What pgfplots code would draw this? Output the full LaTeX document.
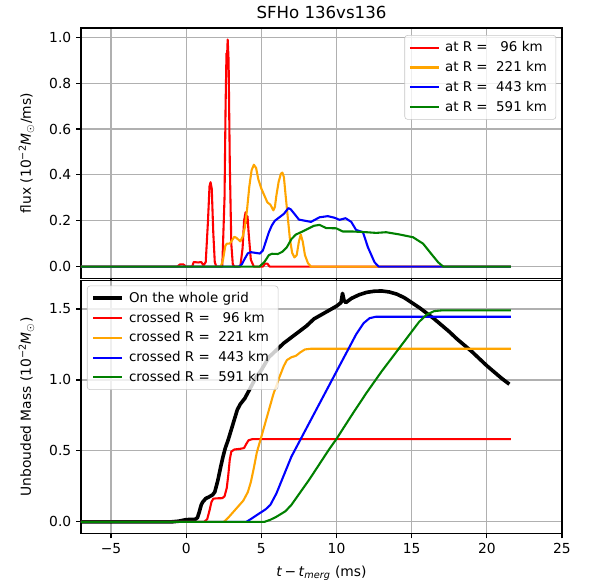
\documentclass[border=0pt]{standalone}
\usepackage{fontspec}
\setmainfont{DejaVu Sans}
\usepackage{pgfplots}
\pgfplotsset{compat=1.18}
\definecolor{mplorange}{RGB}{255,165,0}
\definecolor{mplgreen}{RGB}{0,128,0}
\definecolor{gridgray}{RGB}{176,176,176}
\pgfplotsset{
  common/.style={
    width=346.3bp, scale only axis,
    xmin=-7, xmax=25,
    font=\fontsize{10}{12}\selectfont,
    tick label style={font=\fontsize{10}{12}\selectfont},
    /pgf/number format/assume math mode=true,
    grid=major,
    major grid style={gridgray, line width=0.8bp},
    axis line style={line width=0.8bp},
    tick style={black, line width=0.8bp},
    tick align=outside,
    major tick length=3.5bp,
    xtick pos=bottom, ytick pos=left,
    xtick={-5,0,5,10,15,20,25},
    legend cell align=left,
    legend style={font=\fontsize{9.7}{11.5}\selectfont, draw=gray!45, rounded corners=2bp,
      fill=white, fill opacity=0.8, text opacity=1, inner xsep=3bp, inner ysep=2.5bp,
      row sep=1.4bp, nodes={inner xsep=3.5bp}},
    legend image code/.code={\draw[##1] (0bp,0bp) -- (21bp,0bp);},
    every axis plot/.append style={line width=1.5bp, line join=round},
  }
}
\begin{document}
\begin{tikzpicture}
\begin{axis}[common, name=top,
  height=180bp,
  ymin=-0.05, ymax=1.04,
  ytick={0,0.2,0.4,0.6,0.8,1.0},
  yticklabels={0.0,0.2,0.4,0.6,0.8,1.0},
  xticklabels={},
  ylabel={flux (10\textsuperscript{−2}\textit{M}\textsubscript{$\odot$}/ms)},
  ylabel style={yshift=4bp},
  title={SFHo 136vs136},
  title style={font=\fontsize{12}{14}\selectfont, yshift=-3bp},
  legend style={at={(0.988,0.972)}, anchor=north east},
]
\addplot[red] coordinates {(-7,0)(-0.6,0)(-0.4,0.01)(-0.2,0.01)(0,0)(0.4,0)(0.5,0.02)(0.8,0.018)(1.0,0.02)(1.15,0.005)(1.3,0.02)(1.45,0.2)(1.55,0.35)(1.62,0.368)(1.7,0.34)(1.8,0.15)(1.9,0.02)(2.0,0)(2.4,0)(2.55,0.3)(2.62,0.7)(2.68,0.93)(2.72,0.92)(2.76,0.99)(2.82,0.9)(2.9,0.45)(3.0,0.1)(3.1,0.01)(3.2,0)(3.6,0)(3.75,0.08)(3.85,0.2)(3.95,0.237)(4.02,0.19)(4.08,0.22)(4.15,0.15)(4.3,0.03)(4.5,0)(5.1,0)(5.25,0.013)(5.4,0.013)(5.55,0)(21.6,0)};
\addlegendentry{at R =\ \ \ 96 km}
\addplot[mplorange] coordinates {(-7,0)(2.3,0)(2.45,0.03)(2.6,0.09)(2.7,0.1)(2.9,0.1)(3.0,0.11)(3.2,0.13)(3.35,0.125)(3.6,0.11)(3.75,0.13)(3.9,0.17)(4.05,0.25)(4.2,0.35)(4.35,0.42)(4.5,0.444)(4.65,0.43)(4.8,0.38)(5.0,0.34)(5.2,0.31)(5.4,0.28)(5.6,0.27)(5.8,0.245)(5.9,0.26)(6.0,0.31)(6.15,0.37)(6.3,0.405)(6.4,0.41)(6.5,0.39)(6.6,0.32)(6.75,0.22)(6.9,0.12)(7.05,0.06)(7.2,0.04)(7.35,0.05)(7.5,0.11)(7.62,0.14)(7.75,0.11)(7.9,0.05)(8.1,0.015)(8.3,0)(21.6,0)};
\addlegendentry{at R =\ \ 221 km}
\addplot[blue] coordinates {(-7,0)(3.5,0)(3.7,0.01)(3.9,0.035)(4.1,0.058)(4.3,0.063)(4.6,0.06)(4.9,0.057)(5.1,0.07)(5.3,0.11)(5.5,0.15)(5.7,0.18)(5.9,0.2)(6.2,0.215)(6.5,0.23)(6.8,0.255)(6.95,0.25)(7.2,0.23)(7.5,0.205)(7.9,0.2)(8.3,0.195)(8.87,0.215)(9.42,0.22)(9.87,0.213)(10.2,0.204)(10.6,0.211)(10.98,0.195)(11.3,0.16)(11.76,0.15)(12.09,0.084)(12.53,0.019)(12.8,0)(21.6,0)};
\addlegendentry{at R =\ \ 443 km}
\addplot[mplgreen] coordinates {(-7,0)(4.87,0)(5.2,0.02)(5.5,0.05)(5.7,0.056)(6.1,0.055)(6.4,0.065)(6.7,0.085)(7.0,0.12)(7.3,0.14)(7.7,0.152)(8.1,0.165)(8.5,0.178)(8.87,0.182)(9.31,0.168)(9.98,0.167)(10.42,0.153)(11.09,0.153)(11.98,0.15)(12.64,0.147)(13.3,0.15)(14.2,0.14)(15.09,0.128)(15.76,0.1)(16.31,0.055)(16.76,0.019)(17.1,0)(21.6,0)};
\addlegendentry{at R =\ \ 591 km}
\end{axis}
\begin{axis}[common, name=bot,
  at={(top.south west)}, anchor=north west, yshift=-1.8bp,
  height=182bp,
  ymin=-0.081, ymax=1.70,
  ytick={0,0.5,1.0,1.5},
  yticklabels={0.0,0.5,1.0,1.5},
  xticklabels={−5,0,5,10,15,20,25},
  xlabel={\textit{t}\,−\,\textit{t}\textsubscript{\textit{merg}} (ms)},
  xlabel style={yshift=-2bp},
  ylabel={Unbouded Mass (10\textsuperscript{−2}\textit{M}\textsubscript{$\odot$})},
  ylabel style={yshift=4bp},
  legend style={at={(0.0125,0.98)}, anchor=north west},
]
\addplot[black, line width=2.6bp] coordinates {(-7,0)(-1,0)(-0.5,0.005)(0,0.016)(0.6,0.018)(0.75,0.03)(0.87,0.07)(1.0,0.12)(1.1,0.14)(1.3,0.165)(1.5,0.175)(1.75,0.19)(1.9,0.21)(2.1,0.29)(2.3,0.39)(2.45,0.46)(2.6,0.52)(2.8,0.58)(3.0,0.65)(3.2,0.72)(3.4,0.79)(3.6,0.83)(3.9,0.87)(4.2,0.93)(4.4,0.97)(4.65,1.02)(5.0,1.07)(5.5,1.16)(6.0,1.21)(6.5,1.26)(7.0,1.3)(7.5,1.34)(8.0,1.38)(8.5,1.43)(9.0,1.46)(9.5,1.49)(10.0,1.52)(10.3,1.545)(10.4,1.61)(10.5,1.56)(10.62,1.545)(11.0,1.575)(11.5,1.6)(12.0,1.617)(12.5,1.625)(13.0,1.627)(13.5,1.62)(14.0,1.605)(14.5,1.58)(15.0,1.545)(15.5,1.51)(16.0,1.47)(16.5,1.43)(17.0,1.385)(17.5,1.34)(18.0,1.29)(18.5,1.245)(19.0,1.2)(19.5,1.15)(20.0,1.1)(20.5,1.055)(21.0,1.01)(21.5,0.97)};
\addlegendentry{On the whole grid}
\addplot[red] coordinates {(-7,0)(1.2,0)(1.4,0.02)(1.55,0.08)(1.68,0.14)(1.8,0.163)(2.0,0.166)(2.4,0.167)(2.55,0.18)(2.7,0.24)(2.8,0.33)(2.9,0.44)(3.0,0.495)(3.2,0.51)(3.6,0.515)(3.85,0.52)(4.0,0.55)(4.15,0.575)(4.4,0.583)(21.6,0.583)};
\addlegendentry{crossed R =\ \ \ 96 km}
\addplot[mplorange] coordinates {(-7,0)(2.5,0)(2.8,0.03)(3.3,0.09)(3.8,0.15)(4.1,0.21)(4.3,0.28)(4.5,0.38)(4.7,0.49)(5.0,0.6)(5.4,0.75)(5.8,0.9)(6.2,1.02)(6.5,1.1)(6.7,1.14)(7.0,1.16)(7.3,1.17)(7.6,1.195)(7.9,1.215)(8.3,1.22)(21.6,1.22)};
\addlegendentry{crossed R =\ \ 221 km}
\addplot[blue] coordinates {(-7,0)(4.0,0)(4.3,0.02)(4.8,0.055)(5.3,0.09)(5.6,0.12)(6.0,0.2)(6.5,0.33)(7.0,0.46)(7.7,0.6)(8.7,0.8)(9.7,1.0)(10.7,1.2)(11.3,1.32)(11.8,1.4)(12.2,1.435)(12.6,1.445)(21.6,1.445)};
\addlegendentry{crossed R =\ \ 443 km}
\addplot[mplgreen] coordinates {(-7,0)(5.2,0)(5.6,0.015)(6.0,0.036)(6.6,0.075)(7.0,0.12)(7.4,0.18)(8.2,0.3)(9.5,0.51)(10.0,0.585)(11.0,0.75)(12.0,0.91)(13.0,1.06)(14.0,1.2)(15.0,1.34)(15.5,1.41)(16.0,1.46)(16.5,1.485)(17.0,1.49)(21.6,1.49)};
\addlegendentry{crossed R =\ \ 591 km}
\end{axis}
\pgfresetboundingbox
\path[use as bounding box] ([xshift=-58.3bp,yshift=20.2bp]top.north west) rectangle ++(426.2bp,-421.9bp);
\end{tikzpicture}
\end{document}
